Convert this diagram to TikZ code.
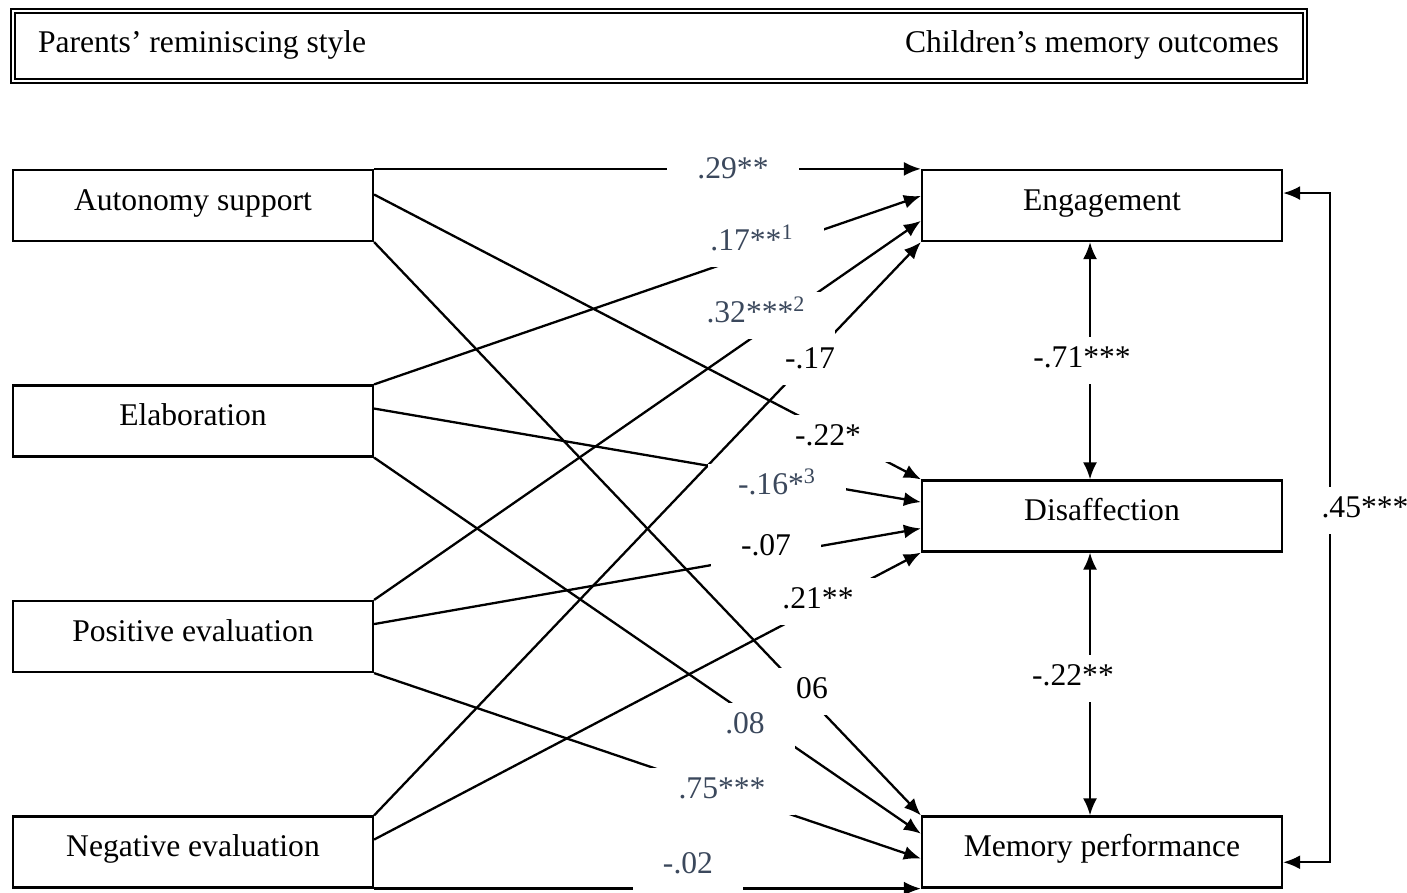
\documentclass[tikz,border=0pt]{standalone}
\usepackage{fontspec}
\setmainfont{Liberation Serif}
\usepackage{xcolor}
\usepackage{tikz}
\usetikzlibrary{arrows.meta,positioning,calc}
\definecolor{slate}{RGB}{59,72,92}
\tikzset{
box/.style = {draw, fill=white, rectangle, line width=1.1pt, minimum width=180pt, minimum height=35.5pt, inner sep=0pt, text height=0.68em, text depth=0.22em, font=\fontsize{15.8}{19}\selectfont},
head/.style = {draw, double, line width=1.1pt, double distance=1pt, minimum width=646pt, minimum height=35pt},
htxt/.style = {inner sep=0pt, font=\fontsize{15.8}{19}\selectfont},
coef/.style = {fill=white, inner xsep=15pt, inner ysep=6pt, yshift=-1.75pt, text height=0.9em, text depth=0.22em, font=\fontsize{15.8}{19}\selectfont},
link/.style = {line width=1.15pt}
}
\begin{document}
\begin{tikzpicture}[x=0.5pt, y=-0.5pt, line width=1pt, >={Latex[length=8.5pt,width=7pt]}, node distance=107.75pt]
    \useasboundingbox (0,0) rectangle (1407,893);
    \node [head] (hdr) at (659,46) {};
    \node [htxt, anchor=base west] (ptitle) at (37,53) {Parents’ reminiscing style};
    \node [htxt, anchor=base east] (ctitle) at (1280,53) {Children’s memory outcomes};
    \node [box] (auto) at (193,205.5) {Autonomy support};
    \node [box, below of=auto] (elab) {Elaboration};
    \node [box, below of=elab] (pos) {Positive evaluation};
    \node [box, below of=pos] (neg) {Negative evaluation};
    \node [box, right of=auto, node distance=454.5pt] (eng) {Engagement};
    \node [box, below of=eng, node distance=155.25pt] (dis) {Disaffection};
    \node [box, below of=dis, node distance=168pt] (mem) {Memory performance};
    \draw [link, ->] (auto.north east) -- (eng.north west);
    \draw [link, ->] ($(auto.north east)!.35!(auto.south east)$) -- (dis.north west);
    \draw [link, ->] (auto.south east) -- (mem.north west);
    \draw [link, ->] (elab.north east) -- ($(eng.north west)!.37!(eng.south west)$);
    \draw [link, ->] ($(elab.north east)!.33!(elab.south east)$) -- ($(dis.north west)!.31!(dis.south west)$);
    \draw [link, ->] (elab.south east) -- ($(mem.north west)!.25!(mem.south west)$);
    \draw [link, ->] (pos.north east) -- ($(eng.north west)!.71!(eng.south west)$);
    \draw [link, ->] ($(pos.north east)!.33!(pos.south east)$) -- ($(dis.north west)!.67!(dis.south west)$);
    \draw [link, ->] (pos.south east) -- ($(mem.north west)!.59!(mem.south west)$);
    \draw [link, ->] (neg.north east) -- (eng.south west);
    \draw [link, ->] ($(neg.north east)!.33!(neg.south east)$) -- (dis.south west);
    \draw [link, ->] (neg.south east) -- (mem.south west);
    \draw [link, <->] ([xshift=-6pt]eng.south) -- ([xshift=-6pt]dis.north);
    \draw [link, <->] ([xshift=-6pt]dis.south) -- ([xshift=-6pt]mem.north);
    \coordinate (engR) at ($(eng.north east)!.33!(eng.south east)$);
    \coordinate (memR) at ($(mem.north east)!.64!(mem.south east)$);
    \coordinate (rail) at (1330,500);
    \draw [link, <->] (memR) -- (memR -| rail) -- (engR -| rail) -- (engR);
    \node [coef, text=slate] (c29) at (733,168) {.29**};
    \node [coef, text=slate] (c17) at (752,240) {.17**\textsuperscript{1}};
    \node [coef, text=slate] (c32) at (756,312) {.32***\textsuperscript{2}};
    \node [coef] (cm17) at (810,358) {-.17};
    \node [coef] (cm22) at (828,435) {-.22*};
    \node [coef, text=slate] (cm16) at (777,484) {-.16*\textsuperscript{3}};
    \node [coef] (cm07) at (766,545) {-.07};
    \node [coef] (c21) at (818,598) {.21**};
    \node [coef] (c06) at (812,688) {06};
    \node [coef, text=slate] (c08) at (745,723) {.08};
    \node [coef, text=slate] (c75) at (722,788) {.75***};
    \node [coef, text=slate] (cm02) at (688,863) {-.02};
    \node [coef] (cm71) at (1082,357) {-.71***};
    \node [coef] (cm22b) at (1073,675) {-.22**};
    \node [coef] (c45) at (1365,507) {.45***};
\end{tikzpicture}
\end{document}
